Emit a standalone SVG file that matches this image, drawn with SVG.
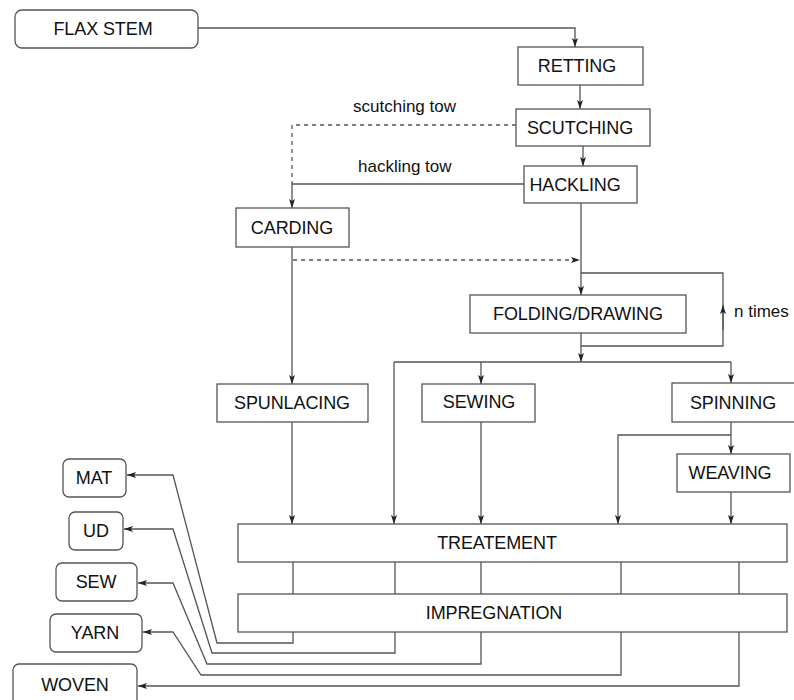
<svg xmlns="http://www.w3.org/2000/svg" width="794" height="700" viewBox="0 0 794 700">
<defs>
<style>
.box{fill:#fff;stroke:#555;stroke-width:1.3}
.t{font-family:"Liberation Sans",Arial,sans-serif;font-size:18px;fill:#111;text-anchor:middle;letter-spacing:-0.1px}
.lbl{font-family:"Liberation Sans",Arial,sans-serif;font-size:17px;fill:#111}
.c{fill:none;stroke:#555;stroke-width:1.3}
.d{fill:none;stroke:#555;stroke-width:1.3;stroke-dasharray:4 4}
</style>
<marker id="ah" markerWidth="9" markerHeight="6" refX="9" refY="3" orient="auto" markerUnits="userSpaceOnUse">
<path d="M0,0 L9,3 L0,6 L2,3 z" fill="#222"/>
</marker>
</defs>
<rect width="794" height="700" fill="#fff"/>
<g id="connectors">
<path class="c" d="M198,28 H575 V47" marker-end="url(#ah)"/>
<path class="c" d="M580,85 V109" marker-end="url(#ah)"/>
<path class="c" d="M583,146 V166" marker-end="url(#ah)"/>
<path class="d" d="M516,125 H292 V184"/>
<path class="c" d="M524,184 H292 V208" marker-end="url(#ah)"/>
<path class="c" d="M581,203 V295" marker-end="url(#ah)"/>
<path class="d" d="M293,260 H580" marker-end="url(#ah)"/>
<path class="c" d="M292,247 V384" marker-end="url(#ah)"/>
<path class="c" d="M581,346 H723 V273 H581"/>
<path class="c" d="M723,330 V305" marker-end="url(#ah)"/>
<path class="c" d="M581,333 V362" marker-end="url(#ah)"/>
<path class="c" d="M394,362 H731"/>
<path class="c" d="M394,362 V524" marker-end="url(#ah)"/>
<path class="c" d="M481,362 V384" marker-end="url(#ah)"/>
<path class="c" d="M731,362 V383" marker-end="url(#ah)"/>
<path class="c" d="M292,422 V524" marker-end="url(#ah)"/>
<path class="c" d="M481,422 V524" marker-end="url(#ah)"/>
<path class="c" d="M731,422 V454" marker-end="url(#ah)"/>
<path class="c" d="M731,435 H618 V524" marker-end="url(#ah)"/>
<path class="c" d="M731,492 V524" marker-end="url(#ah)"/>
<path class="c" d="M293,562 V594 M395,562 V594 M481,562 V594 M621,562 V594 M739,562 V594"/>
<path class="c" d="M293,632 V643 H217 L173,475 H127" marker-end="url(#ah)"/>
<path class="c" d="M395,632 V653 H212 L173,529 H124" marker-end="url(#ah)"/>
<path class="c" d="M481,632 V664 H207 L173,583 H138" marker-end="url(#ah)"/>
<path class="c" d="M621,632 V675 H201 L173,632 H143" marker-end="url(#ah)"/>
<path class="c" d="M739,632 V686 H138" marker-end="url(#ah)"/>
</g>
<text class="lbl" x="353" y="112">scutching tow</text>
<text class="lbl" x="358" y="172">hackling tow</text>
<text class="lbl" x="734" y="317">n times</text>
<g id="flax"><rect class="box" x="15" y="10" width="183" height="38" rx="7"/><text class="t" x="103" y="35">FLAX STEM</text></g>
<g id="retting"><rect class="box" x="518" y="47" width="125" height="38"/><text class="t" x="577" y="72">RETTING</text></g>
<g id="scutching"><rect class="box" x="516" y="109" width="134" height="37"/><text class="t" x="580" y="134">SCUTCHING</text></g>
<g id="hackling"><rect class="box" x="524" y="166" width="113" height="37"/><text class="t" x="575" y="191">HACKLING</text></g>
<g id="carding"><rect class="box" x="236" y="208" width="113" height="39"/><text class="t" x="292" y="234">CARDING</text></g>
<g id="folding"><rect class="box" x="470" y="295" width="216" height="38"/><text class="t" x="578" y="320">FOLDING/DRAWING</text></g>
<g id="spunlacing"><rect class="box" x="217" y="384" width="151" height="38"/><text class="t" x="292" y="409">SPUNLACING</text></g>
<g id="sewing"><rect class="box" x="422" y="384" width="113" height="38"/><text class="t" x="479" y="408">SEWING</text></g>
<g id="spinning"><rect class="box" x="672" y="383" width="130" height="39"/><text class="t" x="733" y="409">SPINNING</text></g>
<g id="weaving"><rect class="box" x="677" y="454" width="113" height="38"/><text class="t" x="730" y="479">WEAVING</text></g>
<g id="treatement"><rect class="box" x="238" y="524" width="549" height="38"/><text class="t" x="497" y="549">TREATEMENT</text></g>
<g id="impregnation"><rect class="box" x="238" y="594" width="549" height="38"/><text class="t" x="494" y="619">IMPREGNATION</text></g>
<g id="mat"><rect class="box" x="63" y="459" width="63" height="38" rx="6"/><text class="t" x="94" y="484">MAT</text></g>
<g id="ud"><rect class="box" x="69" y="512" width="54" height="38" rx="6"/><text class="t" x="96" y="537">UD</text></g>
<g id="sew"><rect class="box" x="56" y="563" width="81" height="38" rx="6"/><text class="t" x="96" y="588">SEW</text></g>
<g id="yarn"><rect class="box" x="50" y="614" width="92" height="38" rx="6"/><text class="t" x="95" y="639">YARN</text></g>
<g id="woven"><rect class="box" x="13" y="664" width="124" height="46" rx="6"/><text class="t" x="75" y="691">WOVEN</text></g>
</svg>
